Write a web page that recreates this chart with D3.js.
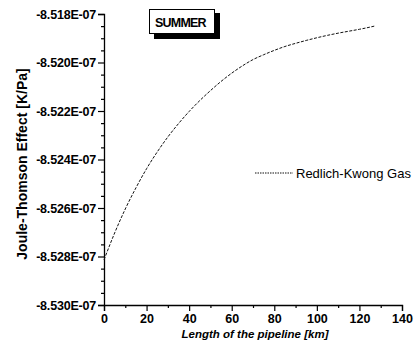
<!DOCTYPE html>
<html><head><meta charset="utf-8">
<script src="https://cdn.jsdelivr.net/npm/d3@7"></script>
<style>
html,body{margin:0;padding:0;background:#fff;}
svg{display:block;font-family:"Liberation Sans",Arial,sans-serif;}
</style></head>
<body>
<script>
// Data (km, Joule-Thomson effect in K/Pa)
const lengthKm = [0,5,10,15,20,25,30,35,40,45,50,55,60,65,70,75,80,85,90,95,100,105,110,115,120,125,127];
const jtEffect = [-8.52814e-7,-8.52703e-7,-8.52604e-7,-8.52517e-7,-8.52438e-7,-8.52369e-7,-8.52307e-7,-8.52252e-7,-8.52202e-7,-8.52157e-7,-8.52116e-7,-8.52078e-7,-8.52044e-7,-8.52014e-7,-8.51988e-7,-8.51968e-7,-8.51950e-7,-8.51934e-7,-8.51921e-7,-8.51909e-7,-8.51898e-7,-8.51888e-7,-8.51879e-7,-8.51871e-7,-8.51863e-7,-8.51854e-7,-8.51850e-7];
const xTicks = [0,20,40,60,80,100,120,140];
const yTicks = [-8.530e-7,-8.528e-7,-8.526e-7,-8.524e-7,-8.522e-7,-8.520e-7,-8.518e-7];
const seriesName = "Redlich-Kwong Gas";
const seasonLabel = "SUMMER";
const xTitle = "Length of the pipeline [km]";
const yTitle = "Joule-Thomson Effect [K/Pa]";

const W = 414, H = 345;
const svg = d3.select("body").append("svg").attr("width", W).attr("height", H);

const x = d3.scaleLinear().domain([0,140]).range([104,402]);
const y = d3.scaleLinear().domain([-8.530e-7,-8.518e-7]).range([305,14]);

const fmtY = v => {
  const s = v.toExponential(3).toUpperCase();
  return s.replace(/E([+-])(\d)$/, "E$10$2");
};

// minor ticks
const xMinor = d3.range(10,140,20);
const yMinor = [];
for (let i = 0; i < yTicks.length - 1; i++) {
  const step = (yTicks[i+1]-yTicks[i])/4;
  for (let k = 1; k < 4; k++) yMinor.push(yTicks[i] + k*step);
}

// X axis
const gx = svg.append("g").attr("transform", "translate(0,305)")
  .call(d3.axisBottom(x).tickValues(xTicks).tickSizeOuter(0).tickSize(6).tickPadding(3).tickFormat(d3.format("d")));
gx.selectAll("text").attr("font-size", 12.5).attr("font-weight", "bold").attr("fill", "#000").attr("font-family", "Liberation Sans, Arial, sans-serif");
gx.select(".domain").attr("stroke", "#000").attr("stroke-width", 1.3);
gx.selectAll(".tick line").attr("stroke", "#000").attr("stroke-width", 1.2);
svg.append("g").attr("transform", "translate(0,305)")
  .call(d3.axisBottom(x).tickValues(xMinor).tickSize(3).tickFormat(""))
  .call(g => g.select(".domain").remove())
  .selectAll("line").attr("stroke", "#000").attr("stroke-width", 1.2);

// Y axis
const gy = svg.append("g").attr("transform", "translate(104,0)")
  .call(d3.axisLeft(y).tickValues(yTicks).tickSizeOuter(0).tickSize(6).tickPadding(2).tickFormat(fmtY));
gy.selectAll("text").attr("font-size", 12.5).attr("font-weight", "bold").attr("fill", "#000")
  .attr("font-family", "Liberation Sans, Arial, sans-serif").attr("letter-spacing", "-0.2");
gy.select(".domain").attr("stroke", "#000").attr("stroke-width", 1.3);
gy.selectAll(".tick line").attr("stroke", "#000").attr("stroke-width", 1.2);
svg.append("g").attr("transform", "translate(104,0)")
  .call(d3.axisLeft(y).tickValues(yMinor).tickSize(3).tickFormat(""))
  .call(g => g.select(".domain").remove())
  .selectAll("line").attr("stroke", "#000").attr("stroke-width", 1.2);

// Axis titles
svg.append("text").attr("x", 255).attr("y", 338).attr("text-anchor", "middle")
  .attr("font-size", 11.5).attr("font-weight", "bold").attr("font-style", "italic").text(xTitle);
svg.append("text").attr("transform", "translate(27,164) rotate(-90)").attr("text-anchor", "middle")
  .attr("font-size", 14).attr("font-weight", "bold").text(yTitle);

// Curve
const pts = lengthKm.map((d,i) => [d, jtEffect[i]]);
svg.append("path").datum(pts)
  .attr("d", d3.line().x(d => x(d[0])).y(d => y(d[1])).curve(d3.curveMonotoneX))
  .attr("fill", "none").attr("stroke", "#111").attr("stroke-width", 1)
  .attr("stroke-dasharray", "3,1.5");

// Legend
svg.append("line").attr("x1", 255).attr("x2", 293).attr("y1", 173).attr("y2", 173)
  .attr("stroke", "#111").attr("stroke-width", 1).attr("stroke-dasharray", "1.5,1");
svg.append("text").attr("x", 296).attr("y", 178).attr("font-size", 13).attr("fill", "#000").text(seriesName);

// SUMMER box with shadow
svg.append("rect").attr("x", 154).attr("y", 13).attr("width", 66).attr("height", 26).attr("fill", "#000");
svg.append("rect").attr("x", 149.5).attr("y", 9.5).attr("width", 65).attr("height", 24)
  .attr("fill", "#fff").attr("stroke", "#000").attr("stroke-width", 1);
svg.append("text").attr("x", 155).attr("y", 26.5).attr("font-size", 12.5).attr("font-weight", "bold")
  .attr("letter-spacing", "-0.8").text(seasonLabel);
</script>
</body></html>
